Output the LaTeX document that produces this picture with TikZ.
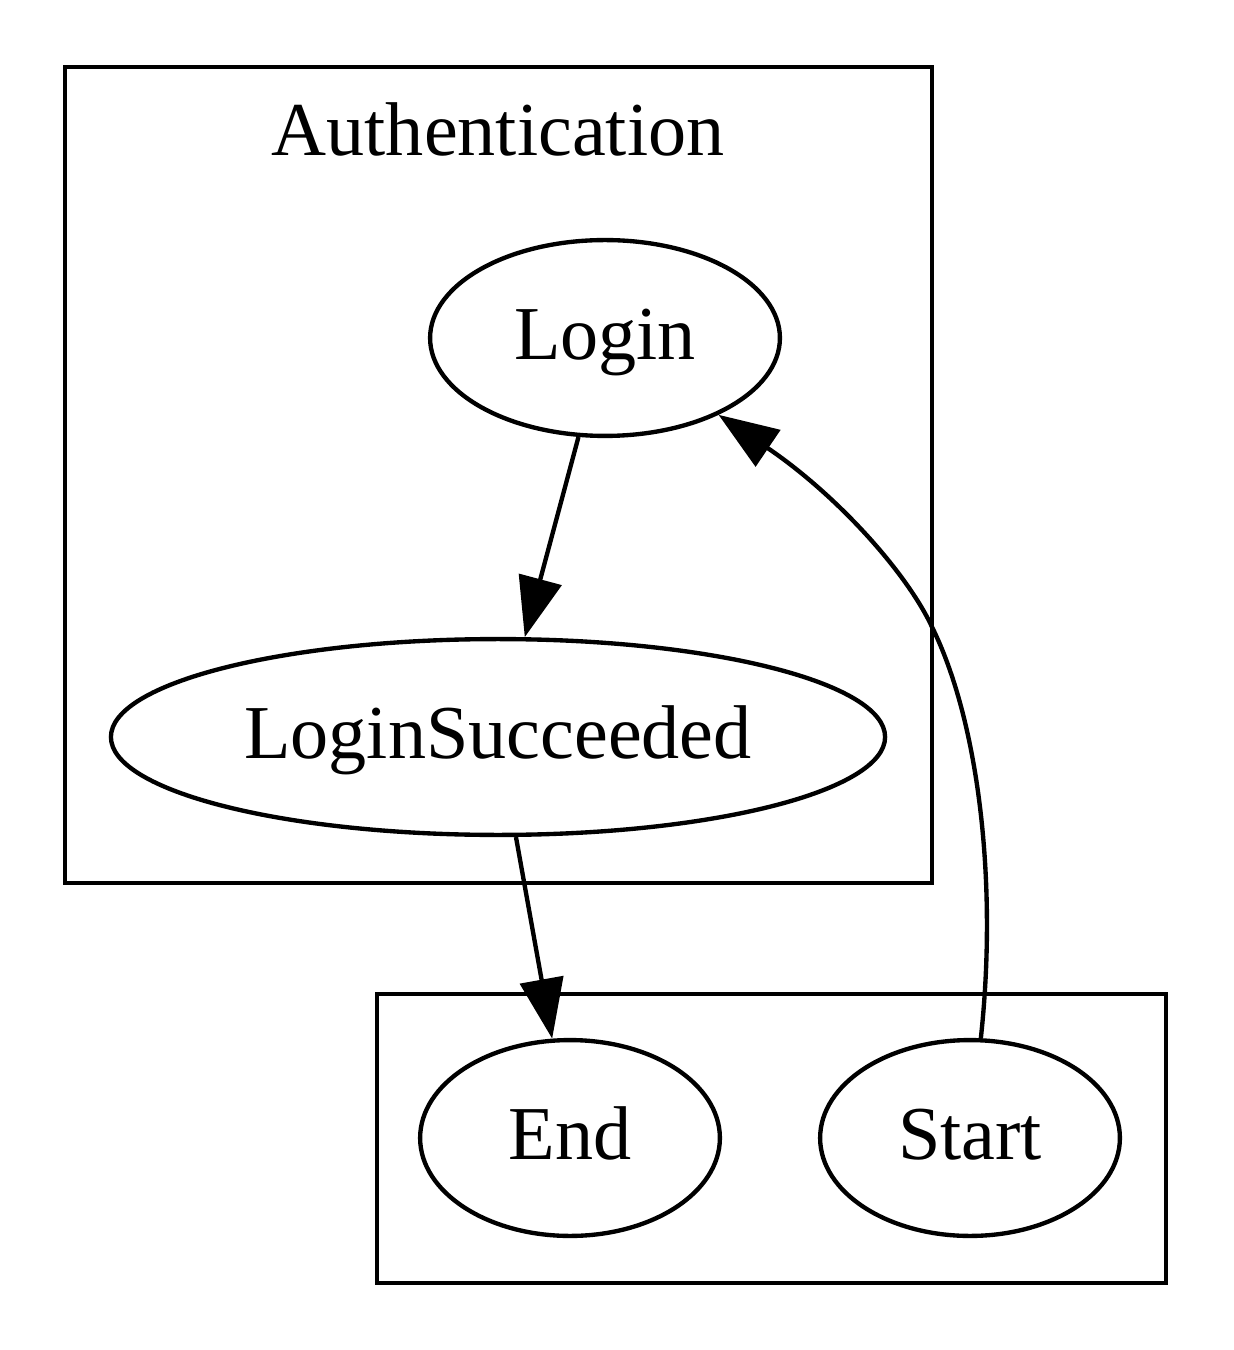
\documentclass[tikz,border=0pt]{standalone}
\usepackage{fontspec}
\setmainfont{Liberation Serif}
\usetikzlibrary{shapes.geometric,arrows.meta}

\begin{document}
\begin{tikzpicture}[x=0.1838pt, y=-0.1838pt, line width=0.8pt,
		font=\fontsize{14pt}{17pt}\selectfont,
		state/.style={draw, ellipse, inner sep=0pt, minimum height=36pt, text height=10.5pt, text depth=2.5pt},
		edge/.style={-{Triangle[length=11pt,width=8pt]}}]
		\useasboundingbox (0,0) rectangle (1233,1350);

		% clusters
		\draw (65,67) rectangle (932,883);
		\node (authtitle) at (498,129) {Authentication};
		\draw (377,994) rectangle (1166,1283);

		\node (login) [state, minimum width=64.3pt] at (605,338) {Login};
		\node (succ) [state, minimum width=142.3pt] at (498,737) {LoginSucceeded};
		\node (end) [state, minimum width=55.1pt] at (570,1138) {End};
		\node (start) [state, minimum width=55.1pt] at (970,1138) {Start};

		\draw[edge] (login) -- (succ);
		\draw[edge] (succ) -- (end);
		\draw[edge] (start) .. controls (998,880) and (978,720) .. (932,627)
			.. controls (907,573) and (837,495) .. (login);
	\end{tikzpicture}
\end{document}
